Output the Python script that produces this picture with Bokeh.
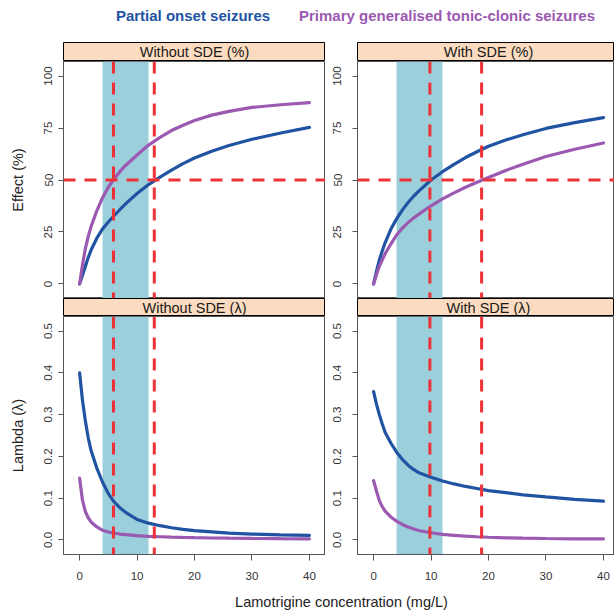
from bokeh.plotting import figure
from bokeh.layouts import column, row
from bokeh.models import Range1d, FixedTicker, BoxAnnotation, Span
from bokeh.core.properties import value
from bokeh.embed import file_html
from bokeh.resources import INLINE

# ---------------- data ----------------
conc = [0, 0.5, 1, 1.5, 2, 3, 4, 5, 6, 7, 8, 10, 12, 14, 16, 18, 20, 23, 26, 30, 35, 40]

eff_wo_pos = [0, 4.2, 8.4, 12.7, 16.3, 22.0, 26.5, 29.8, 32.8, 35.7, 38.5, 43.5, 47.8, 51.4, 54.8, 57.9, 60.6, 63.8, 66.6, 69.6, 72.6, 75.3]
eff_wo_pg = [0, 9.0, 17.0, 22.8, 27.6, 35.2, 41.5, 46.5, 50.5, 54.0, 57.0, 62.0, 66.8, 70.5, 73.8, 76.3, 78.6, 81.2, 83.0, 84.9, 86.2, 87.2]
eff_w_pos = [0, 6.0, 11.5, 15.8, 19.8, 26.3, 31.3, 35.5, 39.2, 42.3, 45.0, 50.0, 54.0, 57.5, 60.8, 63.6, 66.2, 69.2, 71.8, 74.8, 77.6, 80.0]
eff_w_pg = [0, 4.5, 8.5, 11.5, 14.5, 19.2, 23.5, 26.8, 29.5, 31.8, 33.8, 37.6, 40.9, 43.8, 46.5, 48.9, 51.2, 54.6, 57.6, 61.3, 64.8, 67.8]

lam_wo_pos = [0.400, 0.335, 0.285, 0.245, 0.214, 0.172, 0.138, 0.111, 0.091, 0.077, 0.066, 0.049, 0.040, 0.034, 0.029, 0.025, 0.022, 0.019, 0.016, 0.014, 0.012, 0.011]
lam_wo_pg = [0.148, 0.095, 0.068, 0.053, 0.043, 0.031, 0.023, 0.019, 0.016, 0.014, 0.0125, 0.010, 0.0085, 0.0075, 0.0065, 0.0058, 0.0052, 0.0045, 0.004, 0.0034, 0.0029, 0.0025]
lam_w_pos = [0.355, 0.325, 0.300, 0.278, 0.258, 0.232, 0.210, 0.193, 0.179, 0.168, 0.160, 0.150, 0.141, 0.134, 0.128, 0.123, 0.118, 0.113, 0.108, 0.103, 0.097, 0.093]
lam_w_pg = [0.142, 0.117, 0.094, 0.080, 0.069, 0.055, 0.045, 0.037, 0.031, 0.026, 0.022, 0.017, 0.013, 0.011, 0.009, 0.0075, 0.0063, 0.005, 0.004, 0.0033, 0.0026, 0.0022]

ec50_wo = [5.9, 13.0]      # PGTCS, POS without SDE
ec50_w = [9.8, 18.8]       # POS, PGTCS with SDE
effect_ref = [50]
band = [4, 12]             # shaded concentration range

x_ticks = [0, 10, 20, 30, 40]
eff_ticks = [0, 25, 50, 75, 100]
eff_tick_labels = ["0", "25", "50", "75", "100"]
lam_ticks = [0.0, 0.1, 0.2, 0.3, 0.4, 0.5]
lam_tick_labels = ["0.0", "0.1", "0.2", "0.3", "0.4", "0.5"]

series_names = ["Partial onset seizures", "Primary generalised tonic-clonic seizures"]
strip_titles = ["Without SDE (%)", "With SDE (%)", "Without SDE (\u03bb)", "With SDE (\u03bb)"]
y_titles = ["Effect (%)", "Lambda (\u03bb)"]
x_title = "Lamotrigine concentration (mg/L)"

# ---------------- styles ----------------
FONT = value("Liberation Sans")
BLUE = "#2153a3"
PURPLE = "#9b59b1"
RED = "#ec3237"
BANDC = "#9ccfdc"
STRIPC = "#fcdcc0"
FRAMEC = "#555555"

X_LO, X_HI = -2.8, 42.8
PX_PER_UNIT = 262 / (X_HI - X_LO)
LEFT_B, RIGHT_B = 63, 32
LEFT_W, RIGHT_W = 262, 257
X_HI_R = X_LO + RIGHT_W / PX_PER_UNIT
STRIP_X = (X_LO + X_HI) / 2
LEG_H, STRIP1_H, TOP_H, STRIP2_H, BOT_FRAME_H, BOT_B, XT_H = 42, 19, 237, 18, 238, 34, 25


def base_fig(w, h, xr, yr, left, bottom=0, xaxis=False, yaxis=True):
    p = figure(width=w, height=h, x_range=xr, y_range=yr,
               toolbar_location=None, output_backend="svg",
               min_border_left=left, min_border_right=0,
               min_border_top=0, min_border_bottom=bottom,
               x_axis_location="below" if xaxis else None,
               y_axis_location="left" if yaxis else None)
    p.grid.visible = False
    p.background_fill_color = "white"
    p.border_fill_color = "white"
    return p


def strip(title, left, fw, xhi, h):
    p = base_fig(left + fw, h, Range1d(X_LO, xhi), Range1d(0, 1), left, yaxis=False)
    p.background_fill_color = STRIPC
    p.outline_line_color = "black"
    p.outline_line_width = 1
    p.text(x=[STRIP_X], y=[0.5], text=[title], text_align="center",
           text_baseline="middle", text_font=FONT, text_font_size="14.5px",
           text_color="#1a1a1a")
    return p


def style_y(p, ticks, labels, standoff, title=None):
    ax = p.yaxis[0]
    ax.ticker = FixedTicker(ticks=ticks)
    ax.major_label_overrides = {t: l for t, l in zip(ticks, labels)}
    ax.major_label_orientation = "vertical"
    ax.major_label_text_font = "Liberation Sans"
    ax.major_label_text_font_size = "11.5px"
    ax.major_label_text_color = "#333333"
    ax.major_label_standoff = standoff
    ax.major_tick_out = 5
    ax.major_tick_in = 0
    ax.minor_tick_line_color = None
    ax.major_tick_line_color = FRAMEC
    ax.axis_line_color = FRAMEC
    if title:
        ax.axis_label = title
        ax.axis_label_text_font = "Liberation Sans"
        ax.axis_label_text_font_size = "14.5px"
        ax.axis_label_text_font_style = "normal"
        ax.axis_label_text_color = "#222222"
        ax.axis_label_standoff = 16


def style_x(p):
    ax = p.xaxis[0]
    ax.ticker = FixedTicker(ticks=x_ticks)
    ax.major_label_text_font = "Liberation Sans"
    ax.major_label_text_font_size = "11.5px"
    ax.major_label_text_color = "#333333"
    ax.major_label_standoff = 11
    ax.major_tick_out = 6
    ax.major_tick_in = 0
    ax.minor_tick_line_color = None
    ax.major_tick_line_color = FRAMEC
    ax.axis_line_color = FRAMEC


def decorate(p, vlines, hline):
    p.add_layout(BoxAnnotation(left=band[0], right=band[1], fill_color=BANDC,
                               fill_alpha=1, line_color=None, level="underlay"))
    for v in vlines:
        p.add_layout(Span(location=v, dimension="height", line_color=RED,
                          line_width=3, line_dash="12 9"))
    if hline:
        for h in effect_ref:
            p.add_layout(Span(location=h, dimension="width", line_color=RED,
                              line_width=3, line_dash="12 9"))


def panel(left, fw, xhi, yr, h, bottom, blue, purple, vlines, hline,
          ticks, labels, standoff, title):
    p = base_fig(left + fw, h, Range1d(X_LO, xhi), yr, left, bottom=bottom,
                 xaxis=bottom > 0)
    p.outline_line_color = FRAMEC
    decorate(p, vlines, hline)
    p.line(conc, blue, line_color=BLUE, line_width=3.2, line_cap="round")
    p.line(conc, purple, line_color=PURPLE, line_width=3.2, line_cap="round")
    style_y(p, ticks, labels, standoff, title)
    if bottom > 0:
        style_x(p)
    return p


EFF_R = (-7, 107)
LAM_R = (-0.035, 0.535)

# left column
s1 = strip(strip_titles[0], LEFT_B, LEFT_W, X_HI, STRIP1_H)
p1 = panel(LEFT_B, LEFT_W, X_HI, Range1d(*EFF_R), TOP_H, 0, eff_wo_pos, eff_wo_pg,
           ec50_wo, True, eff_ticks, eff_tick_labels, 6, y_titles[0])
s2 = strip(strip_titles[2], LEFT_B, LEFT_W, X_HI, STRIP2_H)
p2 = panel(LEFT_B, LEFT_W, X_HI, Range1d(*LAM_R), BOT_FRAME_H + BOT_B, BOT_B,
           lam_wo_pos, lam_wo_pg, ec50_wo, False, lam_ticks, lam_tick_labels, 6, y_titles[1])

# right column
s3 = strip(strip_titles[1], RIGHT_B, RIGHT_W, X_HI_R, STRIP1_H)
p3 = panel(RIGHT_B, RIGHT_W, X_HI_R, Range1d(*EFF_R), TOP_H, 0, eff_w_pos, eff_w_pg,
           ec50_w, True, eff_ticks, eff_tick_labels, 11, None)
s4 = strip(strip_titles[3], RIGHT_B, RIGHT_W, X_HI_R, STRIP2_H)
p4 = panel(RIGHT_B, RIGHT_W, X_HI_R, Range1d(*LAM_R), BOT_FRAME_H + BOT_B, BOT_B,
           lam_w_pos, lam_w_pg, ec50_w, False, lam_ticks, lam_tick_labels, 11, None)

# legend row (page coordinates)
TOTAL_W = LEFT_B + LEFT_W + RIGHT_B + RIGHT_W
leg = base_fig(TOTAL_W, LEG_H, Range1d(0, TOTAL_W), Range1d(LEG_H, 0), 0, yaxis=False)
leg.outline_line_color = None
leg.text(x=[192.5], y=[14.5], text=[series_names[0]], text_align="center",
         text_baseline="middle", text_font=FONT, text_font_size="15px",
         text_font_style="bold", text_color=BLUE)
leg.text(x=[446.5], y=[14.5], text=[series_names[1]], text_align="center",
         text_baseline="middle", text_font=FONT, text_font_size="15px",
         text_font_style="bold", text_color=PURPLE)

# x title row
frame_span_center = LEFT_B + (LEFT_W + RIGHT_B + LEFT_W) / 2
xl = base_fig(TOTAL_W, XT_H, Range1d(0, TOTAL_W), Range1d(XT_H, 0), 0, yaxis=False)
xl.outline_line_color = None
xl.text(x=[frame_span_center], y=[13], text=[x_title], text_align="center",
        text_baseline="middle", text_font=FONT, text_font_size="14.5px",
        text_color="#222222")

layout = column(leg, row(column(s1, p1, s2, p2), column(s3, p3, s4, p4)), xl)

open("out.html", "w").write(file_html(layout, INLINE))
